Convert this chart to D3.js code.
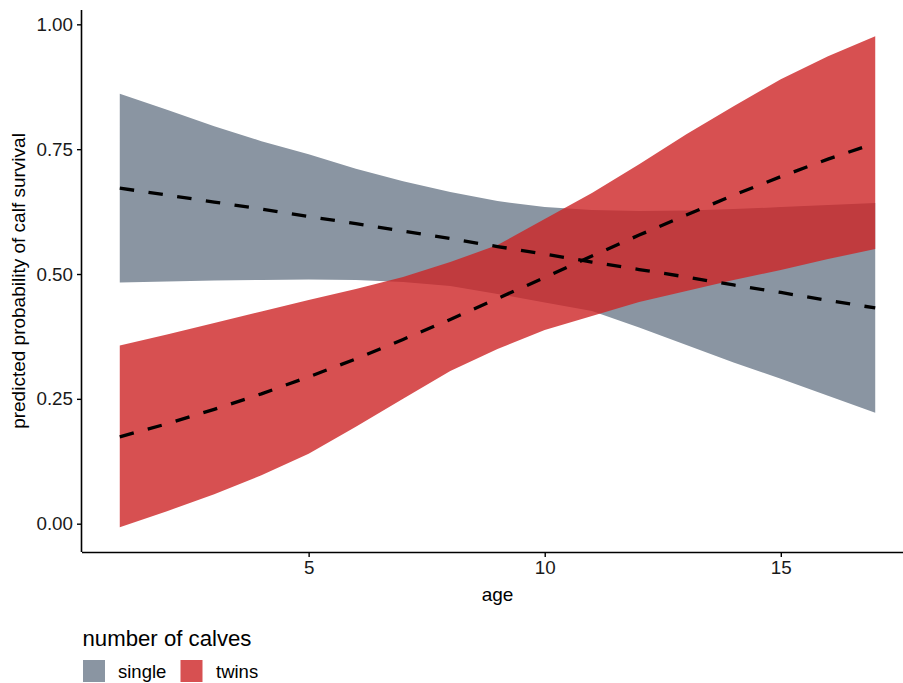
<!DOCTYPE html>
<html>
<head>
<meta charset="utf-8">
<script src="https://cdn.jsdelivr.net/npm/d3@7"></script>
<style>
  html, body { margin: 0; padding: 0; background: #fff; }
  svg { display: block; font-family: "Liberation Sans", Arial, Helvetica, sans-serif; }
</style>
</head>
<body>
<svg id="chart" width="903" height="683"></svg>
<script>
// ---- data ----
const ages = [1, 2, 3, 4, 5, 6, 7, 8, 9, 10, 11, 12, 13, 14, 15, 16, 17];

const singleFit   = [0.672, 0.658, 0.644, 0.630, 0.615, 0.601, 0.586, 0.571, 0.555, 0.540, 0.524, 0.509, 0.494, 0.478, 0.463, 0.447, 0.432];
const singleLower = [0.483, 0.485, 0.487, 0.488, 0.489, 0.488, 0.484, 0.476, 0.460, 0.443, 0.426, 0.393, 0.358, 0.323, 0.290, 0.256, 0.222];
const singleUpper = [0.861, 0.829, 0.796, 0.766, 0.740, 0.711, 0.686, 0.664, 0.646, 0.634, 0.628, 0.626, 0.627, 0.630, 0.634, 0.638, 0.642];

const twinsFit    = [0.174, 0.200, 0.229, 0.260, 0.294, 0.330, 0.369, 0.409, 0.451, 0.493, 0.536, 0.578, 0.618, 0.658, 0.695, 0.730, 0.762];
const twinsLower  = [-0.007, 0.025, 0.059, 0.097, 0.140, 0.194, 0.250, 0.306, 0.350, 0.388, 0.416, 0.444, 0.466, 0.488, 0.508, 0.530, 0.550];
const twinsUpper  = [0.357, 0.379, 0.402, 0.425, 0.448, 0.470, 0.494, 0.524, 0.558, 0.610, 0.662, 0.720, 0.780, 0.836, 0.890, 0.936, 0.976];

const groups = ["single", "twins"];
const groupColors = ["#8A95A2", "#CD2426"];
const groupOpacity = [1, 0.8];

const xTicks = [5, 10, 15];
const yTicks = [0, 0.25, 0.5, 0.75, 1.0];

const xTitle = "age";
const yTitle = "predicted probability of calf survival";
const legendTitle = "number of calves";

// ---- layout ----
const svg = d3.select("#chart");
const plot = { left: 82, right: 913, top: 10, bottom: 552 };

const x = d3.scaleLinear().domain([0.2, 17.8]).range([plot.left, plot.right]);
const y = d3.scaleLinear().domain([-0.0567, 1.0287]).range([plot.bottom, plot.top]);

const seriesData = [
  { name: groups[0], fit: singleFit, lo: singleLower, hi: singleUpper, color: groupColors[0], op: groupOpacity[0] },
  { name: groups[1], fit: twinsFit,  lo: twinsLower,  hi: twinsUpper,  color: groupColors[1], op: groupOpacity[1] }
];

const area = d3.area()
  .x((d, i) => x(ages[i]))
  .y0(d => y(d.lo))
  .y1(d => y(d.hi));

const line = d3.line()
  .x((d, i) => x(ages[i]))
  .y(d => y(d));

const gRib = svg.append("g");
seriesData.forEach(s => {
  const pts = ages.map((a, i) => ({ lo: s.lo[i], hi: s.hi[i] }));
  gRib.append("path")
    .attr("d", area(pts))
    .attr("fill", s.color)
    .attr("fill-opacity", s.op);
});

const gLines = svg.append("g");
seriesData.forEach(s => {
  gLines.append("path")
    .attr("d", line(s.fit))
    .attr("fill", "none")
    .attr("stroke", "#000")
    .attr("stroke-width", 3.3)
    .attr("stroke-dasharray", "14.5 14.5")
    .attr("stroke-linecap", "butt");
});

// ---- axes ----
const xAxis = svg.append("g")
  .attr("transform", `translate(0,${plot.bottom})`)
  .call(d3.axisBottom(x).tickValues(xTicks).tickFormat(d3.format("d")).tickSizeInner(5).tickSizeOuter(0).tickPadding(4));
const yAxis = svg.append("g")
  .attr("transform", `translate(${plot.left},0)`)
  .call(d3.axisLeft(y).tickValues(yTicks).tickFormat(d3.format(".2f")).tickSizeInner(5).tickSizeOuter(0).tickPadding(4));

[xAxis, yAxis].forEach(g => {
  g.select(".domain").attr("stroke", "#000").attr("stroke-width", 1.6);
  g.selectAll(".tick line").attr("stroke", "#000").attr("stroke-width", 1.4);
  g.selectAll(".tick text")
    .attr("fill", "#1a1a1a")
    .style("font-size", "18.8px")
    .style("font-family", "'Liberation Sans', Arial, sans-serif");
});
xAxis.select(".domain").attr("d", `M${plot.left},0.5H${plot.right}`);
yAxis.select(".domain").attr("d", `M-0.5,${plot.top}V${plot.bottom}`);

// axis titles
svg.append("text")
  .attr("x", (plot.left + plot.right) / 2)
  .attr("y", 601)
  .attr("text-anchor", "middle")
  .attr("fill", "#000")
  .style("font-size", "19px")
  .text(xTitle);

svg.append("text")
  .attr("transform", `translate(25,${(plot.top + plot.bottom) / 2}) rotate(-90)`)
  .attr("text-anchor", "middle")
  .attr("fill", "#000")
  .style("font-size", "19px")
  .text(yTitle);

// ---- legend ----
const leg = svg.append("g");
leg.append("text")
  .attr("x", 82.5)
  .attr("y", 645.5)
  .attr("fill", "#000")
  .style("font-size", "22.2px")
  .text(legendTitle);

const keyX = [83, 180.5];
const labelX = [118, 216];
groups.forEach((gname, i) => {
  leg.append("rect")
    .attr("x", keyX[i]).attr("y", 660)
    .attr("width", 22).attr("height", 22)
    .attr("fill", groupColors[i])
    .attr("fill-opacity", groupOpacity[i]);
  leg.append("text")
    .attr("x", labelX[i])
    .attr("y", 677.5)
    .attr("fill", "#000")
    .style("font-size", "18.5px")
    .text(gname);
});
</script>
</body>
</html>
